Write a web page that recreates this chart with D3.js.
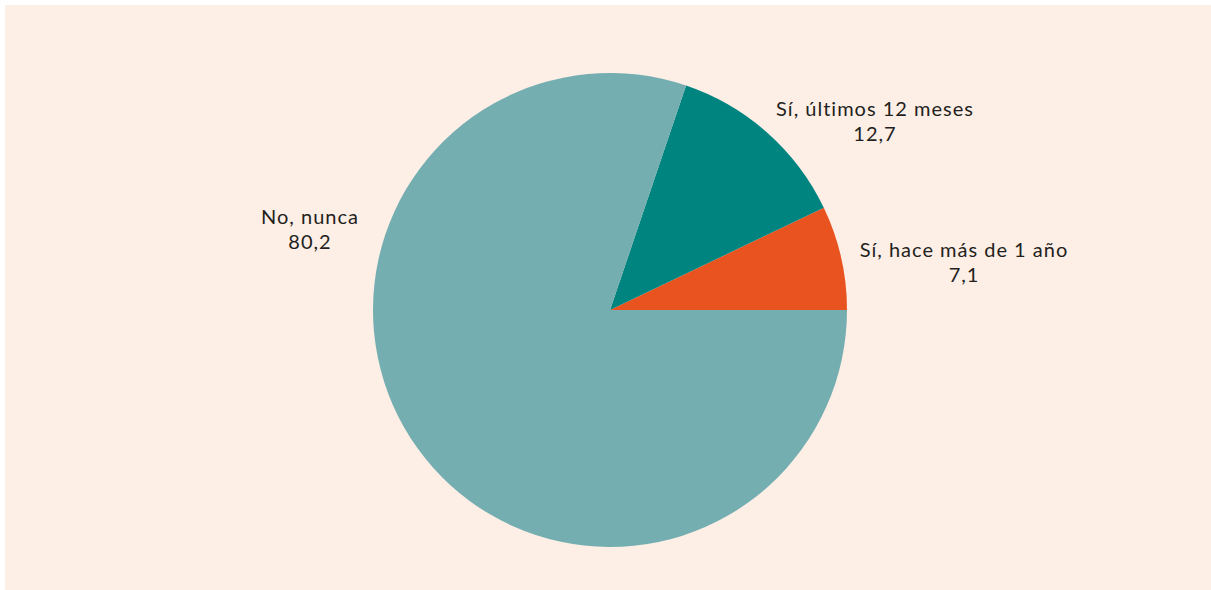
<!DOCTYPE html>
<html>
<head>
<meta charset="utf-8">
<script src="https://cdn.jsdelivr.net/npm/d3@7"></script>
<style>
  body { margin: 0; background: #fff; }
  svg { display: block; }
</style>
</head>
<body>
<svg></svg>
<script>
// data
const categories = ["Sí, hace más de 1 año", "Sí, últimos 12 meses", "No, nunca"]
const values = [7.1, 12.7, 80.2]
const valueLabels = ["7,1", "12,7", "80,2"]
const colors = ["#e9531f", "#008480", "#74aeb1"]

const width = 1211, height = 590
const svg = d3.select("svg").attr("width", width).attr("height", height)

svg.append("rect")
  .attr("x", 5).attr("y", 5)
  .attr("width", width - 5).attr("height", height - 5)
  .attr("fill", "#fdeee6")

const cx = 610, cy = 310, radius = 237

// slices go counterclockwise from 3 o'clock
const pie = d3.pie()
  .sort(null)
  .value(d => d)
  .startAngle(Math.PI / 2)
  .endAngle(Math.PI / 2 - 2 * Math.PI)

const arc = d3.arc().innerRadius(0).outerRadius(radius)
const arcs = pie(values)

const g = svg.append("g").attr("transform", `translate(${cx},${cy})`)

g.selectAll("path")
  .data(arcs)
  .join("path")
  .attr("d", arc)
  .attr("fill", (d, i) => colors[i])

// label anchors (offset from pie centre), placed like the original
const labelAnchors = [[354, -53], [265, -194], [-300, -86]]

const labels = g.selectAll("text.lbl")
  .data(arcs)
  .join("text")
  .attr("class", "lbl")
  .attr("text-anchor", "middle")
  .attr("font-family", "Lato, sans-serif")
  .attr("font-size", 20)
  .attr("letter-spacing", 1)
  .attr("fill", "#231f20")
  .attr("transform", (d, i) => `translate(${labelAnchors[i][0]},${labelAnchors[i][1]})`)

labels.append("tspan").attr("x", 0).attr("y", 0).text((d, i) => categories[i])
labels.append("tspan").attr("x", 0).attr("y", 25).text((d, i) => valueLabels[i])
</script>
</body>
</html>
